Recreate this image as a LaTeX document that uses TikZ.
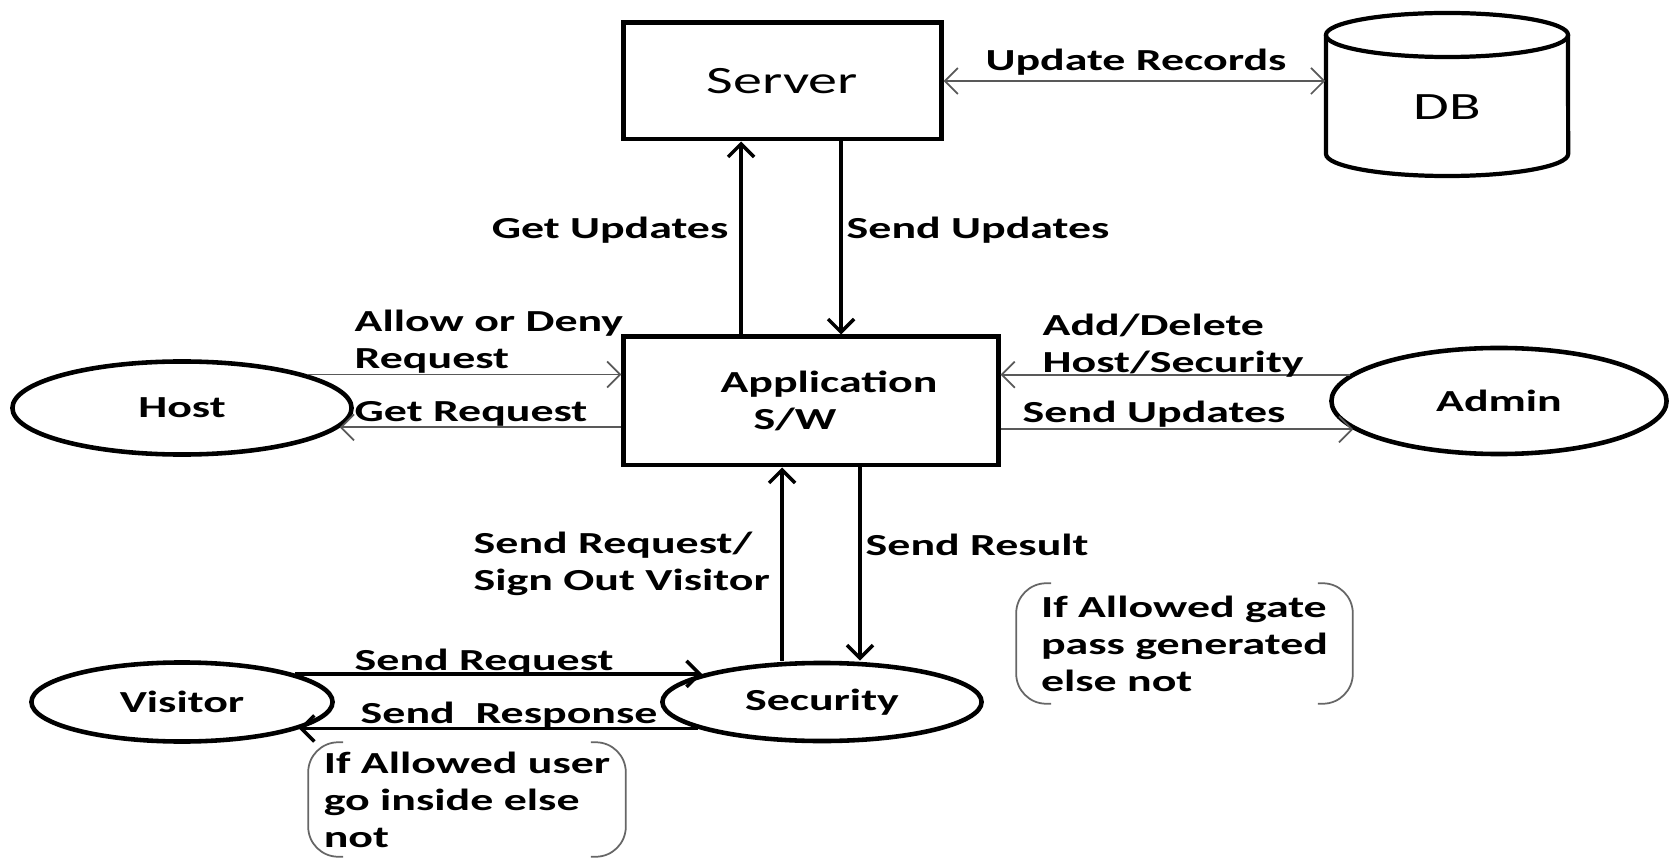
\documentclass[tikz,border=0pt]{standalone}
\usepackage{fontspec}
\setmainfont{Carlito}[FakeStretch=1.5]
\usetikzlibrary{shapes.geometric,arrows.meta}

\begin{document}
\begin{tikzpicture}[x=0.01cm, y=-0.01cm,
    >={Straight Barb[length=0.13cm,width=0.26cm]},
    every node/.style={font=\bfseries\fontsize{8.7}{10.5}\selectfont},
    sysbox/.style={draw, line width=1.4pt, inner sep=0pt},
    actor/.style={ellipse, draw, line width=1.3pt, inner sep=0pt},
    flow/.style={->, line width=1pt},
    link/.style={->, line width=0.5pt, draw=black!65},
    lbl/.style={inner sep=0pt},
    note/.style={inner sep=0pt, align=left},
    bracket/.style={line width=0.5pt, draw=black!60, rounded corners=0.3cm},
    big/.style={font=\mdseries\fontsize{11}{13}\selectfont}]
      \useasboundingbox (0,0) rectangle (1673,858);

      % Server and database
      \node[sysbox, big, minimum width=3.17cm, minimum height=1.16cm] (Server) at (782.5,81) {Server};
      \node[big, inner sep=0pt, minimum width=2.42cm] (DB) at (1447,107) {DB};
      \draw[line width=1.2pt] (1447,35) ellipse [x radius=1.21cm, y radius=0.22cm];
      \draw[line width=1.2pt] (1326,35) -- (1326,154) arc[start angle=180, end angle=360, x radius=1.21cm, y radius=0.22cm] -- (1568,35);

      % Application
      \node[sysbox, align=center, minimum width=3.74cm, minimum height=1.28cm] (App) at (811,401)
        {\hspace*{0.36cm}Application\\S/W\hspace*{0.32cm}};

      % Actors
      \node[actor, minimum width=3.39cm, minimum height=0.93cm] (Host) at (182,408) {Host};
      \node[actor, minimum width=3.35cm, minimum height=1.06cm] (Admin) at (1499,401) {Admin};
      \node[actor, minimum width=3.01cm, minimum height=0.79cm] (Visitor) at (182,702) {Visitor};
      \node[actor, minimum width=3.19cm, minimum height=0.78cm] (Security) at (822,702) {Security};

      % Notes
      \node[note, minimum width=3.35cm, minimum height=1.19cm] (GateNote) at (1184.5,643.5) {If Allowed gate\\pass generated\\else not};
      \node[note, minimum width=3.16cm, minimum height=1.13cm] (UserNote) at (467,799.5) {If Allowed user\\go inside else\\not};
      \foreach \n in {GateNote,UserNote} {
        \draw[bracket] ([xshift=0.35cm]\n.north west) -- (\n.north west) -- (\n.south west) -- ([xshift=0.35cm]\n.south west);
        \draw[bracket] ([xshift=-0.35cm]\n.north east) -- (\n.north east) -- (\n.south east) -- ([xshift=-0.35cm]\n.south east);
      }

      % Columns of the vertical arrows
      \coordinate (gu) at (741,0);
      \coordinate (su) at (841,0);
      \coordinate (sr) at (782,0);
      \coordinate (res) at (860,0);

      % Arrows
      \draw[flow] (App.north -| gu) -- (Server.south -| gu);
      \draw[flow] (Server.south -| su) -- (App.north -| su);
      \draw[link, <->] (Server.east) -- (Server.east -| DB.west);
      \draw[link] (Host.15) -- (Host.15 -| App.west);
      \draw[link] (App.west |- Host.-7) -- (Host.-7);
      \draw[link] (Admin.170) -- (Admin.170 -| App.east);
      \draw[link] (App.east |- Admin.191) -- (Admin.191);
      \draw[flow] (Security.north -| sr) -- (App.south -| sr);
      \draw[flow] (App.south -| res) -- (Security.north -| res);
      \draw[flow] (Visitor.14) -- (Visitor.14 -| Security.167);
      \draw[flow] (Security.192) -- (Security.192 -| Visitor.-13);

      % Labels
      \node[lbl] (lUpdRec) at (1136,62) {Update Records};
      \node[lbl, anchor=east] (lGetUpd) at (729,230) {Get Updates};
      \node[lbl, anchor=west] (lSendUpd) at (846,230) {Send Updates};
      \node[lbl, anchor=west, align=left] (lAllow) at (354,342) {Allow or Deny\\Request};
      \node[lbl, anchor=west] (lGetReq) at (354,414) {Get Request};
      \node[lbl, anchor=west, align=left] (lAddDel) at (1042,346) {Add/Delete\\Host/Security};
      \node[lbl, anchor=west] (lAdmUpd) at (1022,414) {Send Updates};
      \node[lbl, anchor=west, align=left] (lSignOut) at (473,563.5) {Send Request/\\Sign Out Visitor};
      \node[lbl, anchor=west] (lResult) at (865,545) {Send Result};
      \node[lbl, anchor=west] (lVisReq) at (354,662) {Send Request};
      \node[lbl, anchor=west] (lVisResp) at (360,715) {Send\ \ Response};
\end{tikzpicture}
\end{document}
